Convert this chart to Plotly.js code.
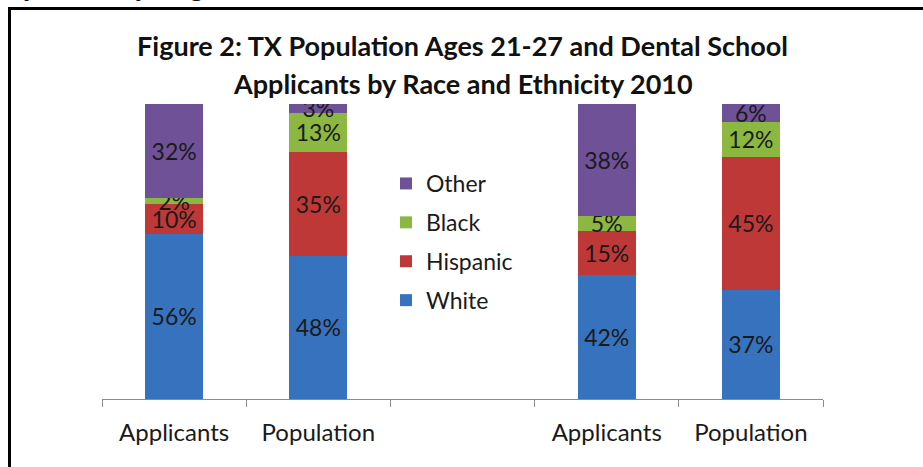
<!DOCTYPE html>
<html>
<head>
<meta charset="utf-8">
<script src="https://cdn.plot.ly/plotly-3.0.1.min.js"></script>
<style>
  html, body { margin: 0; padding: 0; overflow: hidden; background: #fff; }
  #wrap { position: relative; width: 923px; height: 467px; overflow: hidden; }
  #chart { position: absolute; left: 0; top: 0; width: 923px; height: 467px; }
  #frame { position: absolute; left: 8px; top: 7px; width: 2000px; height: 2000px;
           border-left: 3px solid #000; border-top: 3px solid #000; pointer-events: none; }
</style>
</head>
<body>
<div id="wrap">
  <div id="chart"></div>
  <div id="frame"></div>
</div>
<script>
// ---- data ----
const slots = ['A1', 'P1', 'gap', 'A2', 'P2'];
const slotLabels = ['Applicants', 'Population', '', 'Applicants', 'Population'];
const barSlots = ['A1', 'P1', 'A2', 'P2'];
const seriesNames = ['White', 'Hispanic', 'Black', 'Other'];
const white    = [56, 48, 42, 37];
const hispanic = [10, 35, 15, 45];
const black    = [2, 13, 5, 12];
const other    = [32, 3, 38, 6];
const colors = ['#3672BE', '#BE3837', '#8CB842', '#6F5198'];

const series = [white, hispanic, black, other];
const FONT = 'Lato, "Open Sans", sans-serif';

const traces = series.map((vals, i) => ({
  type: 'bar',
  name: seriesNames[i],
  legendgroup: seriesNames[i],
  legendrank: series.length - i,
  x: barSlots,
  y: vals,
  text: vals.map(v => v + '%'),
  textposition: 'inside',
  insidetextanchor: 'middle',
  textangle: 0,
  constraintext: 'none',
  textfont: { family: FONT, size: 23, color: '#1a1a1a' },
  marker: { color: colors[i], line: { width: 0 } },
  hoverinfo: 'skip'
}));

const plotTop = 104, plotBottom = 399, plotH = plotBottom - plotTop;
const py = p => (plotBottom - p) / plotH;
const plotLeft = 102, plotW = 721;
const px = p => (p - plotLeft) / plotW;

const layout = {
  width: 923, height: 467,
  margin: { l: plotLeft, r: 923 - plotLeft - plotW, t: plotTop, b: 467 - plotBottom, pad: 0 },
  paper_bgcolor: '#fff', plot_bgcolor: '#fff',
  barmode: 'stack',
  barnorm: 'percent',
  bargap: 0.6,
  font: { family: FONT, color: '#1a1a1a' },
  title: {
    text: 'Figure 2: TX Population Ages 21-27 and Dental School',
    font: { family: FONT, size: 27, weight: 'bold', color: '#111' },
    x: 0.5, xref: 'paper', xanchor: 'center',
    y: 1 - 47 / 467, yref: 'container', yanchor: 'middle'
  },
  annotations: [
    { text: 'Applicants by Race and Ethnicity 2010', showarrow: false,
      xref: 'paper', yref: 'paper', x: 0.5, y: py(84), xanchor: 'center', yanchor: 'middle',
      font: { family: FONT, size: 27, weight: 'bold', color: '#111' } },
    { text: 'y of older young adults.', showarrow: false,
      xref: 'paper', yref: 'paper', x: px(22), y: py(3), xanchor: 'left', yanchor: 'bottom',
      font: { family: '"Liberation Serif", serif', size: 27, color: '#111' } }
  ],
  xaxis: {
    type: 'category',
    categoryorder: 'array', categoryarray: slots,
    tickmode: 'array', tickvals: slots, ticktext: slotLabels,
    tickson: 'boundaries',
    ticks: 'outside', ticklen: 7, tickcolor: '#8c8c8c', tickwidth: 1,
    showline: true, linecolor: '#8c8c8c', linewidth: 1,
    showgrid: false, zeroline: false,
    tickfont: { family: FONT, size: 24, color: '#1a1a1a' },
    ticklabelstandoff: 12,
    fixedrange: true
  },
  yaxis: { range: [0, 100], visible: false, fixedrange: true },
  showlegend: true,
  legend: {
    x: px(386), y: py(162), xanchor: 'left', yanchor: 'top',
    traceorder: 'grouped', tracegroupgap: 6,
    font: { family: FONT, size: 23, color: '#1a1a1a' },
    bgcolor: 'rgba(0,0,0,0)', borderwidth: 0
  }
};

Plotly.newPlot('chart', traces, layout, { displayModeBar: false, staticPlot: true });
</script>
</body>
</html>
